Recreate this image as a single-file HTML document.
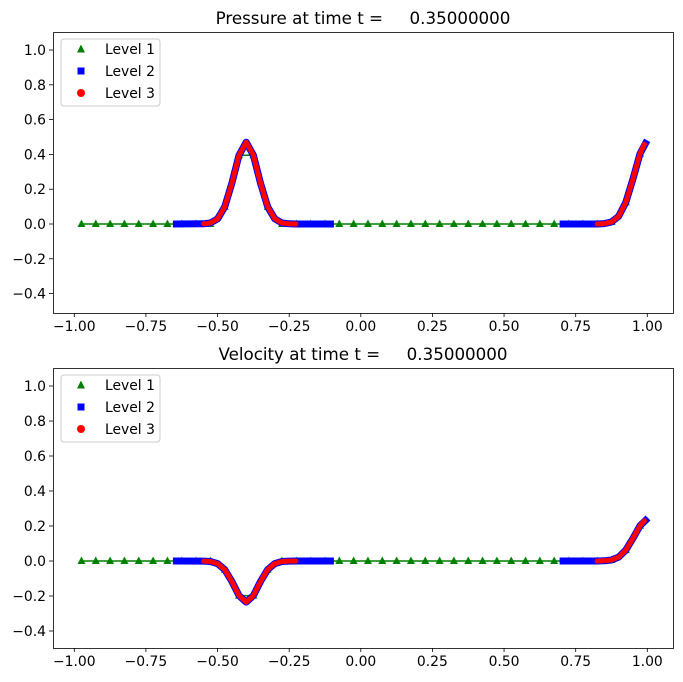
<!DOCTYPE html>
<html><head><meta charset="utf-8"><style>
html,body{margin:0;padding:0;background:#fff}
svg{display:block;font-family:"DejaVu Sans","Liberation Sans",sans-serif}
</style></head><body>
<svg width="683" height="682" xmlns="http://www.w3.org/2000/svg">
<defs>
<pattern id="tp" x="74.31" y="0" width="14.325" height="682" patternUnits="userSpaceOnUse">
<polygon points="7.16,219.5 3.16,227 11.16,227" fill="green"/>
</pattern>
<pattern id="tv" x="74.31" y="0" width="14.325" height="682" patternUnits="userSpaceOnUse">
<polygon points="7.16,556.5 3.16,564 11.16,564" fill="green"/>
</pattern>
</defs>

<text x="363" y="24" font-size="16.7" text-anchor="middle" xml:space="preserve">Pressure at time t =     0.35000000</text>
<g stroke="#000" stroke-width="0.8">
<line x1="74.3" y1="313" x2="74.3" y2="317"/><line x1="145.9" y1="313" x2="145.9" y2="317"/><line x1="217.55" y1="313" x2="217.55" y2="317"/><line x1="289.2" y1="313" x2="289.2" y2="317"/><line x1="360.8" y1="313" x2="360.8" y2="317"/><line x1="432.4" y1="313" x2="432.4" y2="317"/><line x1="504.05" y1="313" x2="504.05" y2="317"/><line x1="575.7" y1="313" x2="575.7" y2="317"/><line x1="647.3" y1="313" x2="647.3" y2="317"/>
<line x1="49" y1="50" x2="53" y2="50"/><line x1="49" y1="84.8" x2="53" y2="84.8"/><line x1="49" y1="119.6" x2="53" y2="119.6"/><line x1="49" y1="154.4" x2="53" y2="154.4"/><line x1="49" y1="189.2" x2="53" y2="189.2"/><line x1="49" y1="224" x2="53" y2="224"/><line x1="49" y1="258.8" x2="53" y2="258.8"/><line x1="49" y1="293.6" x2="53" y2="293.6"/>
</g>
<g font-size="13.9" text-anchor="middle">
<text x="74.3" y="331">−1.00</text><text x="145.9" y="331">−0.75</text><text x="217.55" y="331">−0.50</text><text x="289.2" y="331">−0.25</text><text x="360.8" y="331">0.00</text><text x="432.4" y="331">0.25</text><text x="504.05" y="331">0.50</text><text x="575.7" y="331">0.75</text><text x="647.3" y="331">1.00</text>
</g>
<g font-size="13.9" text-anchor="end">
<text x="46" y="55">1.0</text><text x="46" y="89.8">0.8</text><text x="46" y="124.6">0.6</text><text x="46" y="159.4">0.4</text><text x="46" y="194.2">0.2</text><text x="46" y="229">0.0</text><text x="46" y="263.8">−0.2</text><text x="46" y="298.6">−0.4</text>
</g>
<polyline fill="none" stroke="green" stroke-width="1.5" points="81.47,224 196.1,224 210.4,223 224.7,206.9 239,155.3 253.4,155.3 267.7,206.9 282,223 296.3,224 597.2,224 611.5,222 625.8,202.4 640.1,153.5"/>
<rect x="74.3" y="215" width="143.2" height="15" fill="url(#tp)"/>
<rect x="275" y="215" width="329.3" height="15" fill="url(#tp)"/>
<g fill="green">
<polygon points="224.7,202.4 220.7,209.9 228.7,209.9"/><polygon points="239,150.8 235,158.3 243,158.3"/><polygon points="253.4,150.8 249.4,158.3 257.4,158.3"/><polygon points="267.7,202.4 263.7,209.9 271.7,209.9"/>
<polygon points="611.5,217.5 607.5,225 615.5,225"/><polygon points="625.8,197.9 621.8,205.4 629.8,205.4"/><polygon points="640.1,149 636.1,156.5 644.1,156.5"/>
</g>
<g fill="none" stroke="blue" stroke-width="7" stroke-linecap="square" stroke-linejoin="round">
<polyline points="176.4,224 203.2,223.8 210.4,223 217.55,218.9 224.7,206.9 231.9,183.1 239,155.3 246.2,142.2 253.4,155.3 260.5,183.1 267.7,206.9 274.85,218.9 282,223 289.2,223.8 296.3,224 330.4,224"/>
<polyline points="563.1,224 597.2,224 604.3,223.6 611.5,222 618.65,216.3 625.8,202.4 633,178.8 640.1,153.5 645.5,143.4"/>
</g>
<g fill="none" stroke="red" stroke-width="5" stroke-linecap="round" stroke-linejoin="round">
<polyline points="203.7,223.8 210.4,223 217.55,218.9 224.7,206.9 231.9,183.1 239,155.3 246.2,142.2 253.4,155.3 260.5,183.1 267.7,206.9 274.85,218.9 282,223 289.2,223.8 295.9,224"/>
<polyline points="597.2,224 604.3,223.6 611.5,222 618.65,216.3 625.8,202.4 633,178.8 640.1,153.5 644.4,144.1"/>
</g>
<rect x="53.5" y="32.5" width="620" height="281" fill="none" stroke="#000" stroke-width="0.8"/>
<rect x="61" y="39" width="99" height="67" rx="3" fill="#fff" fill-opacity="0.8" stroke="#ccc"/>
<polygon points="81,44.5 77,52.5 85,52.5" fill="green"/>
<rect x="77.5" y="67.5" width="7" height="7" fill="blue"/>
<circle cx="81" cy="93" r="4" fill="red"/>
<g font-size="13.9"><text x="105" y="54">Level 1</text><text x="105" y="76">Level 2</text><text x="105" y="98">Level 3</text></g>

<text x="363" y="360" font-size="16.7" text-anchor="middle" xml:space="preserve">Velocity at time t =     0.35000000</text>
<g stroke="#000" stroke-width="0.8">
<line x1="74.3" y1="648" x2="74.3" y2="652"/><line x1="145.9" y1="648" x2="145.9" y2="652"/><line x1="217.55" y1="648" x2="217.55" y2="652"/><line x1="289.2" y1="648" x2="289.2" y2="652"/><line x1="360.8" y1="648" x2="360.8" y2="652"/><line x1="432.4" y1="648" x2="432.4" y2="652"/><line x1="504.05" y1="648" x2="504.05" y2="652"/><line x1="575.7" y1="648" x2="575.7" y2="652"/><line x1="647.3" y1="648" x2="647.3" y2="652"/>
<line x1="49" y1="386" x2="53" y2="386"/><line x1="49" y1="421" x2="53" y2="421"/><line x1="49" y1="456" x2="53" y2="456"/><line x1="49" y1="491" x2="53" y2="491"/><line x1="49" y1="526" x2="53" y2="526"/><line x1="49" y1="561" x2="53" y2="561"/><line x1="49" y1="596" x2="53" y2="596"/><line x1="49" y1="631" x2="53" y2="631"/>
</g>
<g font-size="13.9" text-anchor="middle">
<text x="74.3" y="666">−1.00</text><text x="145.9" y="666">−0.75</text><text x="217.55" y="666">−0.50</text><text x="289.2" y="666">−0.25</text><text x="360.8" y="666">0.00</text><text x="432.4" y="666">0.25</text><text x="504.05" y="666">0.50</text><text x="575.7" y="666">0.75</text><text x="647.3" y="666">1.00</text>
</g>
<g font-size="13.9" text-anchor="end">
<text x="46" y="391">1.0</text><text x="46" y="426">0.8</text><text x="46" y="461">0.6</text><text x="46" y="496">0.4</text><text x="46" y="531">0.2</text><text x="46" y="566">0.0</text><text x="46" y="601">−0.2</text><text x="46" y="636">−0.4</text>
</g>
<polyline fill="none" stroke="green" stroke-width="1.5" points="81.47,561 196.1,561 210.4,561.5 224.7,569.6 239,595.6 253.4,595.6 267.7,569.6 282,561.5 296.3,561 597.2,561 611.5,560 625.8,550.1 640.1,525.6"/>
<rect x="74.3" y="552" width="143.2" height="15" fill="url(#tv)"/>
<rect x="275" y="552" width="329.3" height="15" fill="url(#tv)"/>
<g fill="green">
<polygon points="224.7,565.1 220.7,572.6 228.7,572.6"/><polygon points="239,591.1 235,598.6 243,598.6"/><polygon points="253.4,591.1 249.4,598.6 257.4,598.6"/><polygon points="267.7,565.1 263.7,572.6 271.7,572.6"/>
<polygon points="611.5,555.5 607.5,563 615.5,563"/><polygon points="625.8,545.6 621.8,553.1 629.8,553.1"/><polygon points="640.1,521.1 636.1,528.6 644.1,528.6"/>
</g>
<g fill="none" stroke="blue" stroke-width="7" stroke-linecap="square" stroke-linejoin="round">
<polyline points="176.4,561 203.2,561.1 210.4,561.5 217.55,563.6 224.7,569.6 231.9,581.5 239,595.6 246.2,602.1 253.4,595.6 260.5,581.5 267.7,569.6 274.85,563.6 282,561.5 289.2,561.1 296.3,561 330.4,561"/>
<polyline points="563.1,561 597.2,561 604.3,560.8 611.5,560 618.65,557.1 625.8,550.1 633,538.3 640.1,525.6 645.5,520.4"/>
</g>
<g fill="none" stroke="red" stroke-width="5" stroke-linecap="round" stroke-linejoin="round">
<polyline points="203.7,561.1 210.4,561.5 217.55,563.6 224.7,569.6 231.9,581.5 239,595.6 246.2,602.1 253.4,595.6 260.5,581.5 267.7,569.6 274.85,563.6 282,561.5 289.2,561.1 295.9,561"/>
<polyline points="597.2,561 604.3,560.8 611.5,560 618.65,557.1 625.8,550.1 633,538.3 640.1,525.6 644.4,520.8"/>
</g>
<rect x="53.5" y="368.5" width="620" height="280" fill="none" stroke="#000" stroke-width="0.8"/>
<rect x="61" y="375" width="99" height="67" rx="3" fill="#fff" fill-opacity="0.8" stroke="#ccc"/>
<polygon points="81,380.5 77,388.5 85,388.5" fill="green"/>
<rect x="77.5" y="403.5" width="7" height="7" fill="blue"/>
<circle cx="81" cy="429" r="4" fill="red"/>
<g font-size="13.9"><text x="105" y="390">Level 1</text><text x="105" y="412">Level 2</text><text x="105" y="434">Level 3</text></g>
</svg>
</body></html>
